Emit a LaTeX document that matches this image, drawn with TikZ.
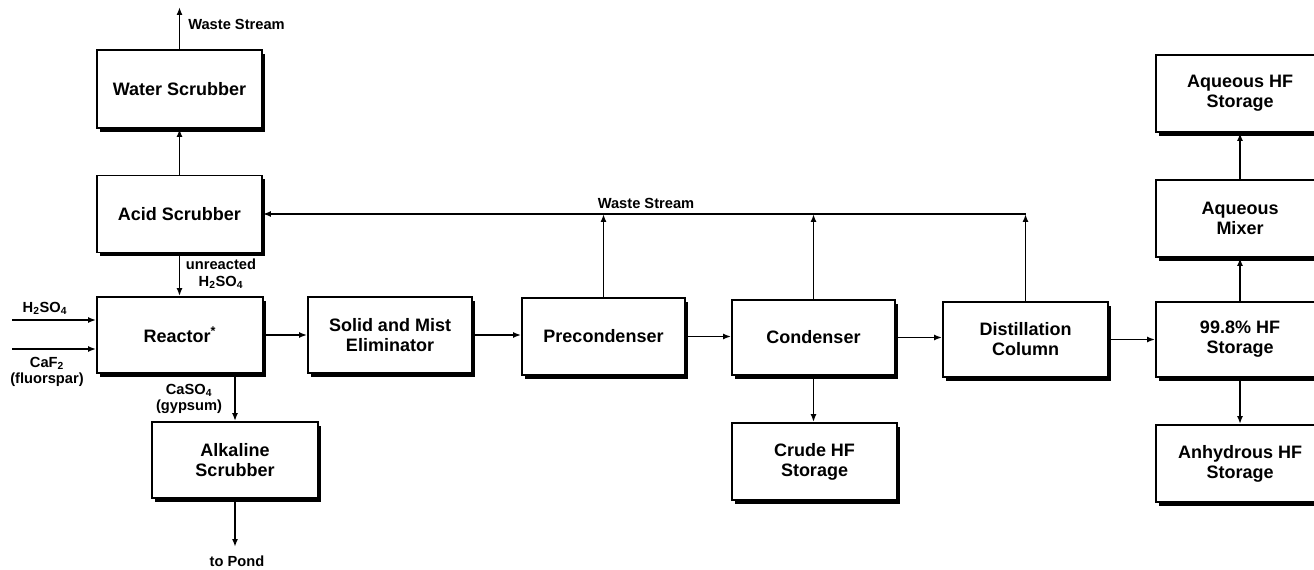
\documentclass[tikz,border=0pt]{standalone}
\usepackage{fontspec}
\setmainfont{Liberation Sans}
\usetikzlibrary{arrows.meta,shadows}
\begin{document}
\begin{tikzpicture}[x=0.75pt,y=-0.75pt,
  proc/.style={draw=black, line width=1.4pt, fill=white, align=center,
    font=\bfseries\fontsize{13.5}{15}\selectfont, inner sep=2pt,
    drop shadow={shadow xshift=2.4pt, shadow yshift=-3pt, opacity=1, fill=black}},
  flow/.style={line width=1.2pt, -{Latex[length=6pt,width=4.5pt]}},
  lbl/.style={font=\bfseries\fontsize{11}{12.5}\selectfont, align=center, inner sep=0pt}]
\useasboundingbox (0,0) rectangle (1314,570);
% boxes
\node[proc, minimum width=123.75pt, minimum height=58.5pt] (ws) at (179.5,89) {Water Scrubber};
\node[proc, minimum width=123.75pt, minimum height=57.75pt] (as) at (179.5,214) {Acid Scrubber};
\node[proc, minimum width=124.5pt, minimum height=57pt] (re) at (180,335) {Reactor\textsuperscript{*}};
\node[proc, minimum width=123pt, minimum height=57pt] (sm) at (390,335) {Solid and Mist\\Eliminator};
\node[proc, minimum width=122.25pt, minimum height=57.75pt] (pc) at (603.5,336.5) {Precondenser};
\node[proc, minimum width=122.25pt, minimum height=56.25pt] (cd) at (813.5,337.5) {Condenser};
\node[proc, minimum width=123.75pt, minimum height=56.25pt] (dc) at (1025.5,339.5) {Distillation\\Column};
\node[proc, minimum width=126pt, minimum height=56.25pt] (st) at (1240,339.5) {99.8\% HF\\Storage};
\node[proc, minimum width=126pt, minimum height=57.75pt] (am) at (1240,218.5) {Aqueous\\Mixer};
\node[proc, minimum width=126pt, minimum height=57.75pt] (ah) at (1240,93.5) {Aqueous HF\\Storage};
\node[proc, minimum width=126pt, minimum height=57.75pt] (an) at (1240,463.5) {Anhydrous HF\\Storage};
\node[proc, minimum width=123.75pt, minimum height=57.75pt] (cs) at (814.5,461.5) {Crude HF\\Storage};
\node[proc, minimum width=124.5pt, minimum height=57pt] (ak) at (235,460) {Alkaline\\Scrubber};
% free ends
\coordinate (wtop) at (178,7);
\coordinate (wsl) at (0,214);
\coordinate (h2in) at (12,320);
\coordinate (cfin) at (12,349);
\coordinate (pond) at (236,547);
% top column
\draw[flow] (ws.north) -- (ws.north |- wtop);
\draw[flow] (as.north) -- (ws.south);
\draw[flow] (as.south) -- (as.south |- re.north);
% inputs
\draw[flow] (h2in) -- (h2in -| re.west);
\draw[flow] (cfin) -- (cfin -| re.west);
% main row
\draw[flow] (re.east) -- (re.east -| sm.west);
\draw[flow] (sm.east) -- (sm.east -| pc.west);
\draw[flow] (pc.east) -- (pc.east -| cd.west);
\draw[flow] (cd.east) -- (cd.east -| dc.west);
\draw[flow] (dc.east) -- (dc.east -| st.west);
% waste stream line
\draw[flow] (pc.north) -- (pc.north |- wsl);
\draw[flow] (cd.north) -- (cd.north |- wsl);
\draw[flow] (dc.north) -- (dc.north |- wsl);
\draw[flow] (dc.north |- wsl) -- (as.east);
% downward
\draw[flow] (ak.north |- re.south) -- (ak.north);
\draw[flow] (ak.south) -- (ak.south |- pond);
\draw[flow] (cd.south) -- (cd.south |- cs.north);
\draw[flow] (st.south -| an.north) -- (an.north);
% right column up
\draw[flow] (st.north) -- (am.south);
\draw[flow] (am.north) -- (ah.south);
% labels
\node[lbl, anchor=west] (lws1) at (188,24) {Waste Stream};
\node[lbl] (lws2) at (646,203) {Waste Stream};
\node[lbl] (lun) at (221,274) {unreacted\\H\textsubscript{2}SO\textsubscript{4}};
\node[lbl] (lh2) at (45,308) {H\textsubscript{2}SO\textsubscript{4}};
\node[lbl] (lcf) at (47,372) {CaF\textsubscript{2}\\(fluorspar)};
\node[lbl] (lcs) at (189,399) {CaSO\textsubscript{4}\\(gypsum)};
\node[lbl] (lpo) at (237,561) {to Pond};
\end{tikzpicture}
\end{document}
